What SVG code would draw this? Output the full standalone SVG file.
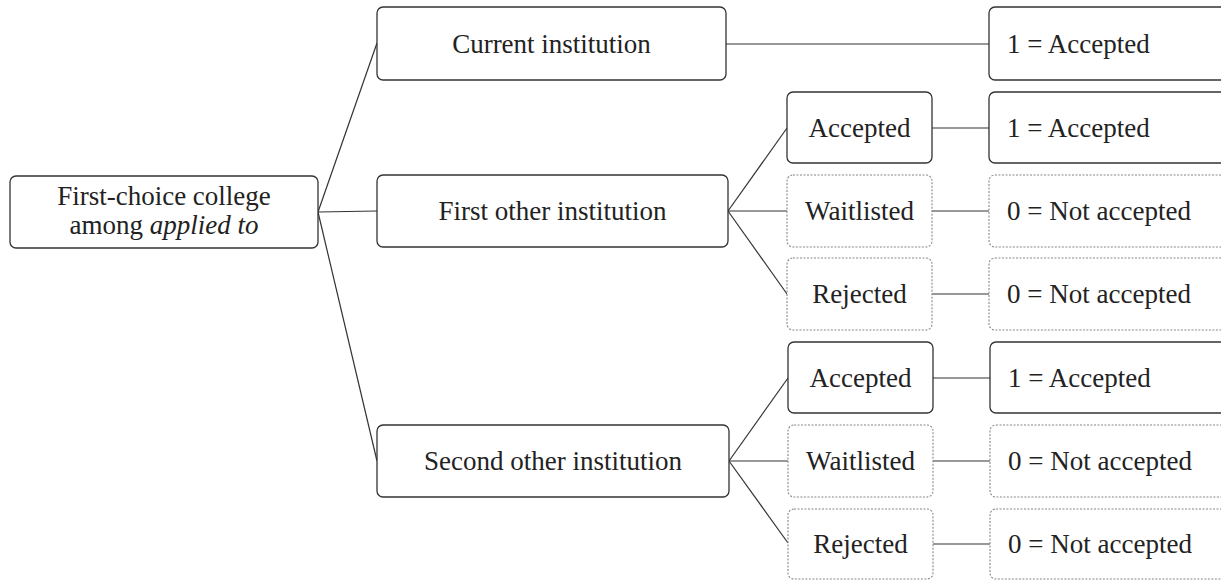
<svg xmlns="http://www.w3.org/2000/svg" width="1221" height="580" viewBox="0 0 1221 580">
<style>
.box{fill:#fff;stroke:#333;stroke-width:1.3}
.dash{fill:#fff;stroke:#888;stroke-width:1.1;stroke-dasharray:2 1.5}
text{font-family:'Liberation Serif','DejaVu Serif',serif;font-size:27px;fill:#222}
.c{text-anchor:middle}
.ln{stroke:#333;stroke-width:1.2;fill:none}
</style>
<g id="connectors">
<line class="ln" x1="318" y1="212" x2="377" y2="43"/>
<line class="ln" x1="318" y1="212" x2="377" y2="211"/>
<line class="ln" x1="318" y1="212" x2="377" y2="461"/>
<line class="ln" x1="726" y1="44" x2="989" y2="44"/>
<line class="ln" x1="728" y1="211" x2="787" y2="128"/>
<line class="ln" x1="728" y1="211" x2="787" y2="211"/>
<line class="ln" x1="728" y1="211" x2="787" y2="294"/>
<line class="ln" x1="729" y1="461" x2="788" y2="378"/>
<line class="ln" x1="729" y1="461" x2="788" y2="461"/>
<line class="ln" x1="729" y1="461" x2="788" y2="543"/>
<line class="ln" x1="932" y1="128" x2="989" y2="128"/>
<line class="ln" x1="932" y1="211" x2="989" y2="211"/>
<line class="ln" x1="932" y1="294" x2="989" y2="294"/>
<line class="ln" x1="933" y1="378" x2="990" y2="378"/>
<line class="ln" x1="933" y1="461" x2="990" y2="461"/>
<line class="ln" x1="933" y1="544" x2="990" y2="544"/>
</g>
<g id="root"><rect class="box" x="10" y="176" width="308" height="72" rx="6"/>
<text class="c" x="164" y="205" font-family="Liberation Serif, serif" font-size="26">First-choice college</text>
<text class="c" x="164" y="234" font-family="Liberation Serif, serif" font-size="26">among <tspan font-style="italic">applied to</tspan></text></g>
<g id="current"><rect class="box" x="377" y="7" width="349" height="73" rx="6"/><text class="c" x="551.5" y="53" font-family="Liberation Serif, serif">Current institution</text></g>
<g id="first"><rect class="box" x="377" y="175" width="351" height="72" rx="6"/><text class="c" x="552.5" y="220" font-family="Liberation Serif, serif">First other institution</text></g>
<g id="second"><rect class="box" x="377" y="425" width="352" height="72" rx="6"/><text class="c" x="553" y="470" font-family="Liberation Serif, serif">Second other institution</text></g>
<g id="f_acc"><rect class="box" x="787" y="92" width="145" height="71" rx="6"/><text class="c" x="859.5" y="137" font-family="Liberation Serif, serif">Accepted</text></g>
<g id="f_wait"><rect class="dash" x="787" y="175" width="145" height="72" rx="6"/><text class="c" x="859.5" y="220" font-family="Liberation Serif, serif">Waitlisted</text></g>
<g id="f_rej"><rect class="dash" x="787" y="258" width="145" height="72" rx="6"/><text class="c" x="859.5" y="303" font-family="Liberation Serif, serif">Rejected</text></g>
<g id="s_acc"><rect class="box" x="788" y="342" width="145" height="71" rx="6"/><text class="c" x="860.5" y="387" font-family="Liberation Serif, serif">Accepted</text></g>
<g id="s_wait"><rect class="dash" x="788" y="425" width="145" height="72" rx="6"/><text class="c" x="860.5" y="470" font-family="Liberation Serif, serif">Waitlisted</text></g>
<g id="s_rej"><rect class="dash" x="788" y="509" width="145" height="70" rx="6"/><text class="c" x="860.5" y="553" font-family="Liberation Serif, serif">Rejected</text></g>
<g id="r_cur"><rect class="box" x="989" y="7" width="240" height="73" rx="6"/><text x="1007" y="53" font-family="Liberation Serif, serif">1 = Accepted</text></g>
<g id="r_f_acc"><rect class="box" x="989" y="92" width="240" height="71" rx="6"/><text x="1007" y="137" font-family="Liberation Serif, serif">1 = Accepted</text></g>
<g id="r_f_wait"><rect class="dash" x="989" y="175" width="240" height="72" rx="6"/><text x="1007" y="220" font-family="Liberation Serif, serif">0 = Not accepted</text></g>
<g id="r_f_rej"><rect class="dash" x="989" y="258" width="240" height="72" rx="6"/><text x="1007" y="303" font-family="Liberation Serif, serif">0 = Not accepted</text></g>
<g id="r_s_acc"><rect class="box" x="990" y="342" width="240" height="71" rx="6"/><text x="1008" y="387" font-family="Liberation Serif, serif">1 = Accepted</text></g>
<g id="r_s_wait"><rect class="dash" x="990" y="425" width="240" height="72" rx="6"/><text x="1008" y="470" font-family="Liberation Serif, serif">0 = Not accepted</text></g>
<g id="r_s_rej"><rect class="dash" x="990" y="509" width="240" height="70" rx="6"/><text x="1008" y="553" font-family="Liberation Serif, serif">0 = Not accepted</text></g>
</svg>
